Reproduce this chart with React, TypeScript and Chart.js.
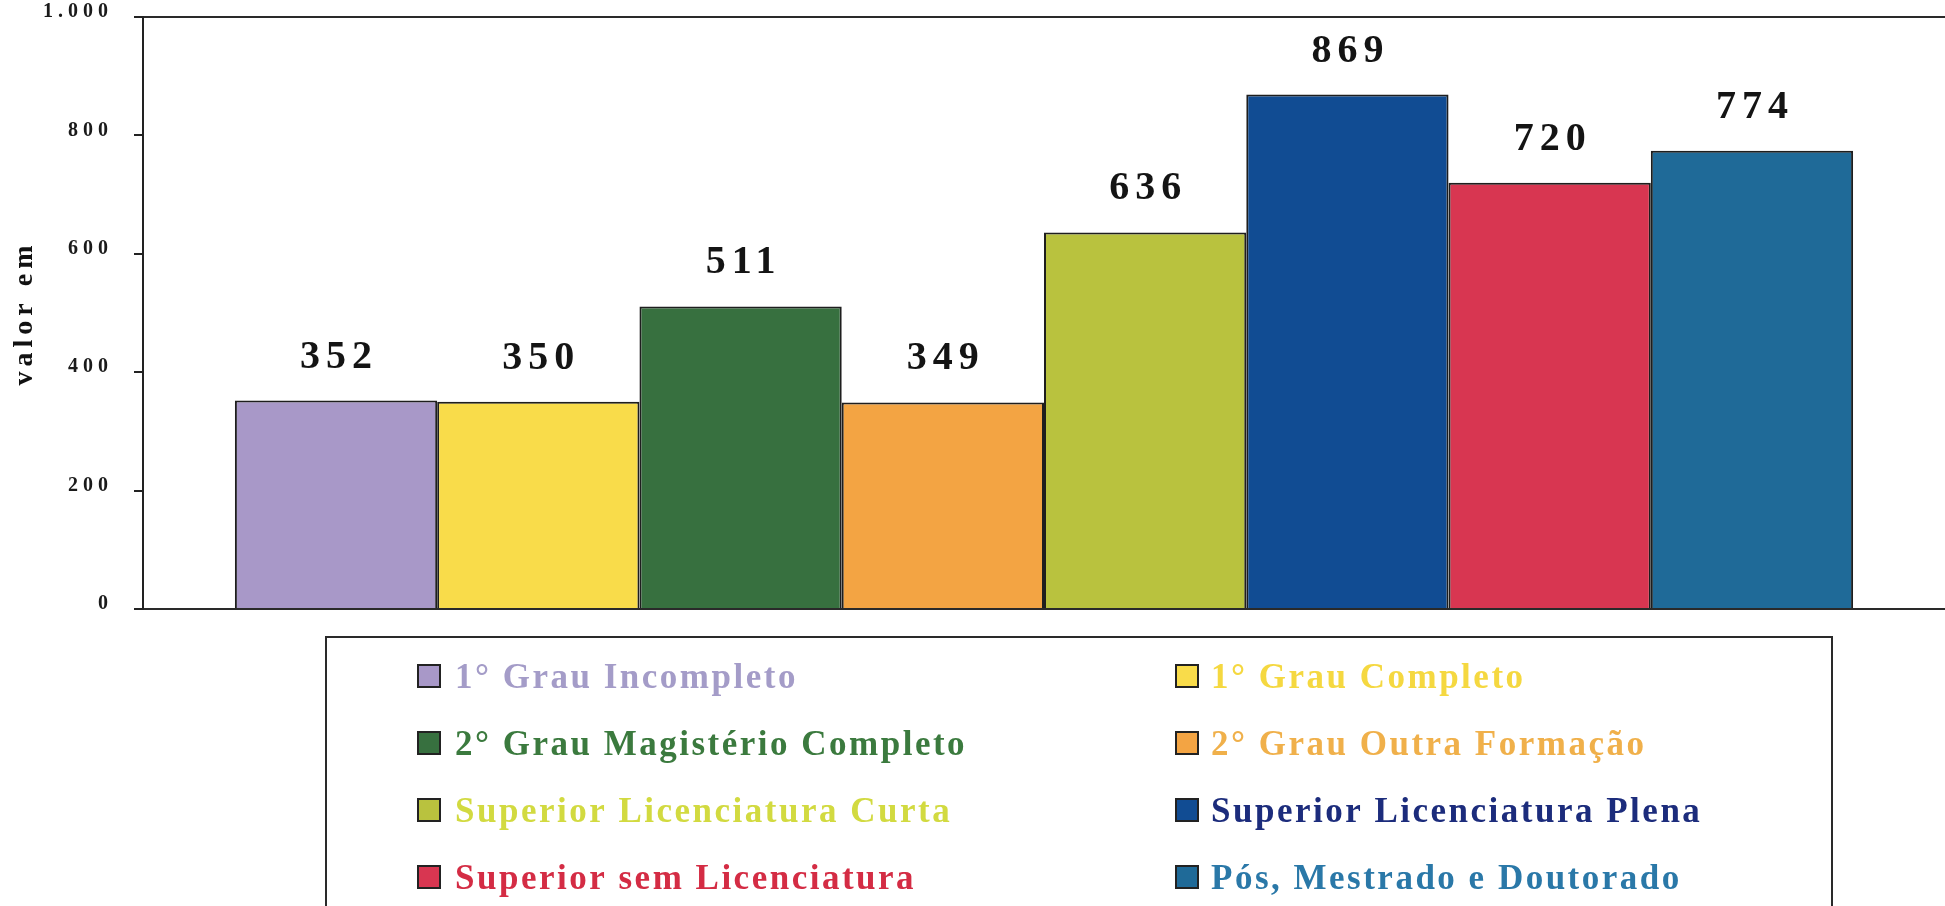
import { useEffect, useRef } from 'react';
import { Chart, registerables } from 'chart.js';

Chart.register(...registerables);

const categories = [''];
const seriesLabels = [
  '1° Grau Incompleto',
  '1° Grau Completo',
  '2° Grau Magistério Completo',
  '2° Grau Outra Formação',
  'Superior Licenciatura Curta',
  'Superior Licenciatura Plena',
  'Superior sem Licenciatura',
  'Pós, Mestrado e Doutorado',
];
const seriesValues = [352, 350, 511, 349, 636, 869, 720, 774];
const barColors = [
  '#a898c8',
  '#f9dc4a',
  '#37703f',
  '#f3a443',
  '#b9c23e',
  '#114c93',
  '#d83651',
  '#1f6a98',
];
const legendTextColors = [
  '#a49cc8',
  '#f5d840',
  '#3b7a3e',
  '#f0b04a',
  '#d2da40',
  '#1c2c7c',
  '#d42c44',
  '#2a78a8',
];
const yTickLabels = ['0', '200', '400', '600', '800', '1.000'];
const yTitle = 'valor em';
const yMin = 0;
const yMax = 1000;
const yStep = 200;

const SERIF = '"Liberation Serif", "Times New Roman", serif';

export default function App() {
  const ref = useRef<HTMLCanvasElement>(null);

  useEffect(() => {
    document.body.style.margin = '0';
    document.body.style.overflow = 'hidden';
    const canvas = ref.current;
    if (!canvas) return;

    const spacingPlugin = {
      id: 'axisSpacing',
      beforeDraw(chart: any) {
        chart.ctx.letterSpacing = '5px';
      },
      beforeDatasetsDraw(chart: any) {
        chart.ctx.letterSpacing = '0px';
      },
    };

    const valueLabels = {
      id: 'valueLabels',
      afterDatasetsDraw(chart: any) {
        const ctx = chart.ctx;
        ctx.save();
        ctx.font = `bold 40px ${SERIF}`;
        ctx.letterSpacing = '6px';
        ctx.fillStyle = '#141414';
        ctx.textAlign = 'left';
        ctx.textBaseline = 'alphabetic';
        chart.data.datasets.forEach((ds: any, i: number) => {
          const el = chart.getDatasetMeta(i).data[0];
          if (!el) return;
          const txt = String(ds.data[0]);
          const w = ctx.measureText(txt).width - 6;
          ctx.fillText(txt, el.x - w / 2, el.y - 33);
        });
        ctx.restore();
      },
    };

    const boxLegend = {
      id: 'boxLegend',
      afterDraw(chart: any) {
        const ctx = chart.ctx;
        const ca = chart.chartArea;
        const boxLeft = 326;
        const boxRight = 1832;
        const boxTop = ca.bottom + 28;
        ctx.save();
        ctx.letterSpacing = '0px';
        ctx.strokeStyle = '#2a2a2a';
        ctx.lineWidth = 2;
        ctx.strokeRect(boxLeft, boxTop, boxRight - boxLeft, chart.height - boxTop + 20);
        const markerX = [429, 1187];
        const textX = [455, 1211];
        const rowStep = 67;
        const firstRow = boxTop + 39;
        const m = 22;
        ctx.font = `bold 35px ${SERIF}`;
        ctx.letterSpacing = '2.5px';
        ctx.textAlign = 'left';
        ctx.textBaseline = 'alphabetic';
        chart.data.datasets.forEach((ds: any, i: number) => {
          const col = i % 2;
          const row = Math.floor(i / 2);
          const cy = firstRow + row * rowStep;
          const mx = markerX[col];
          ctx.fillStyle = ds.backgroundColor;
          ctx.fillRect(mx - m / 2, cy - m / 2, m, m);
          ctx.lineWidth = 2;
          ctx.strokeStyle = '#222';
          ctx.strokeRect(mx - m / 2, cy - m / 2, m, m);
          ctx.fillStyle = legendTextColors[i];
          ctx.fillText(ds.label, textX[col], cy + 12);
        });
        ctx.restore();
      },
    };

    const chart = new Chart(canvas, {
      type: 'bar',
      data: {
        labels: categories,
        datasets: seriesLabels.map((label, i) => ({
          label,
          data: [seriesValues[i]],
          backgroundColor: barColors[i],
          borderColor: '#1e1e1e',
          borderWidth: 2,
          borderSkipped: 'start',
        })),
      },
      options: {
        animation: false,
        responsive: true,
        maintainAspectRatio: false,
        layout: { padding: { top: 17, bottom: 297, left: 0, right: 0 } },
        datasets: {
          bar: { categoryPercentage: 0.898, barPercentage: 1.0 },
        },
        plugins: {
          legend: { display: false },
          tooltip: { enabled: false },
        },
        scales: {
          x: {
            type: 'category',
            display: false,
          },
          y: {
            min: yMin,
            max: yMax,
            afterFit(scale: any) {
              scale.width = 143;
              scale.paddingTop = 0;
              scale.paddingBottom = 0;
            },
            ticks: {
              stepSize: yStep,
              padding: 21,
              labelOffset: -5,
              color: '#1a1a1a',
              font: { family: SERIF, size: 20, weight: 'bold' },
              callback: (v: any) => yTickLabels[Math.round((Number(v) - yMin) / yStep)] ?? '',
            },
            grid: {
              drawOnChartArea: true,
              drawTicks: true,
              tickLength: 9,
              lineWidth: 2,
              tickColor: '#222',
              color: (ctx: any) =>
                ctx.tick && (ctx.tick.value === yMin || ctx.tick.value === yMax) ? '#2a2a2a' : 'rgba(0,0,0,0)',
            },
            border: { display: true, color: '#222', width: 2 },
            title: {
              display: true,
              text: yTitle,
              color: '#111',
              padding: { top: 8, bottom: 0 },
              font: { family: SERIF, size: 28, weight: 'bold' },
            },
          },
        },
      },
      plugins: [spacingPlugin, valueLabels, boxLegend],
    } as any);

    return () => chart.destroy();
  }, []);

  return (
    <div style={{ position: 'relative', width: '1945px', height: '906px' }}>
      <canvas ref={ref} />
    </div>
  );
}
